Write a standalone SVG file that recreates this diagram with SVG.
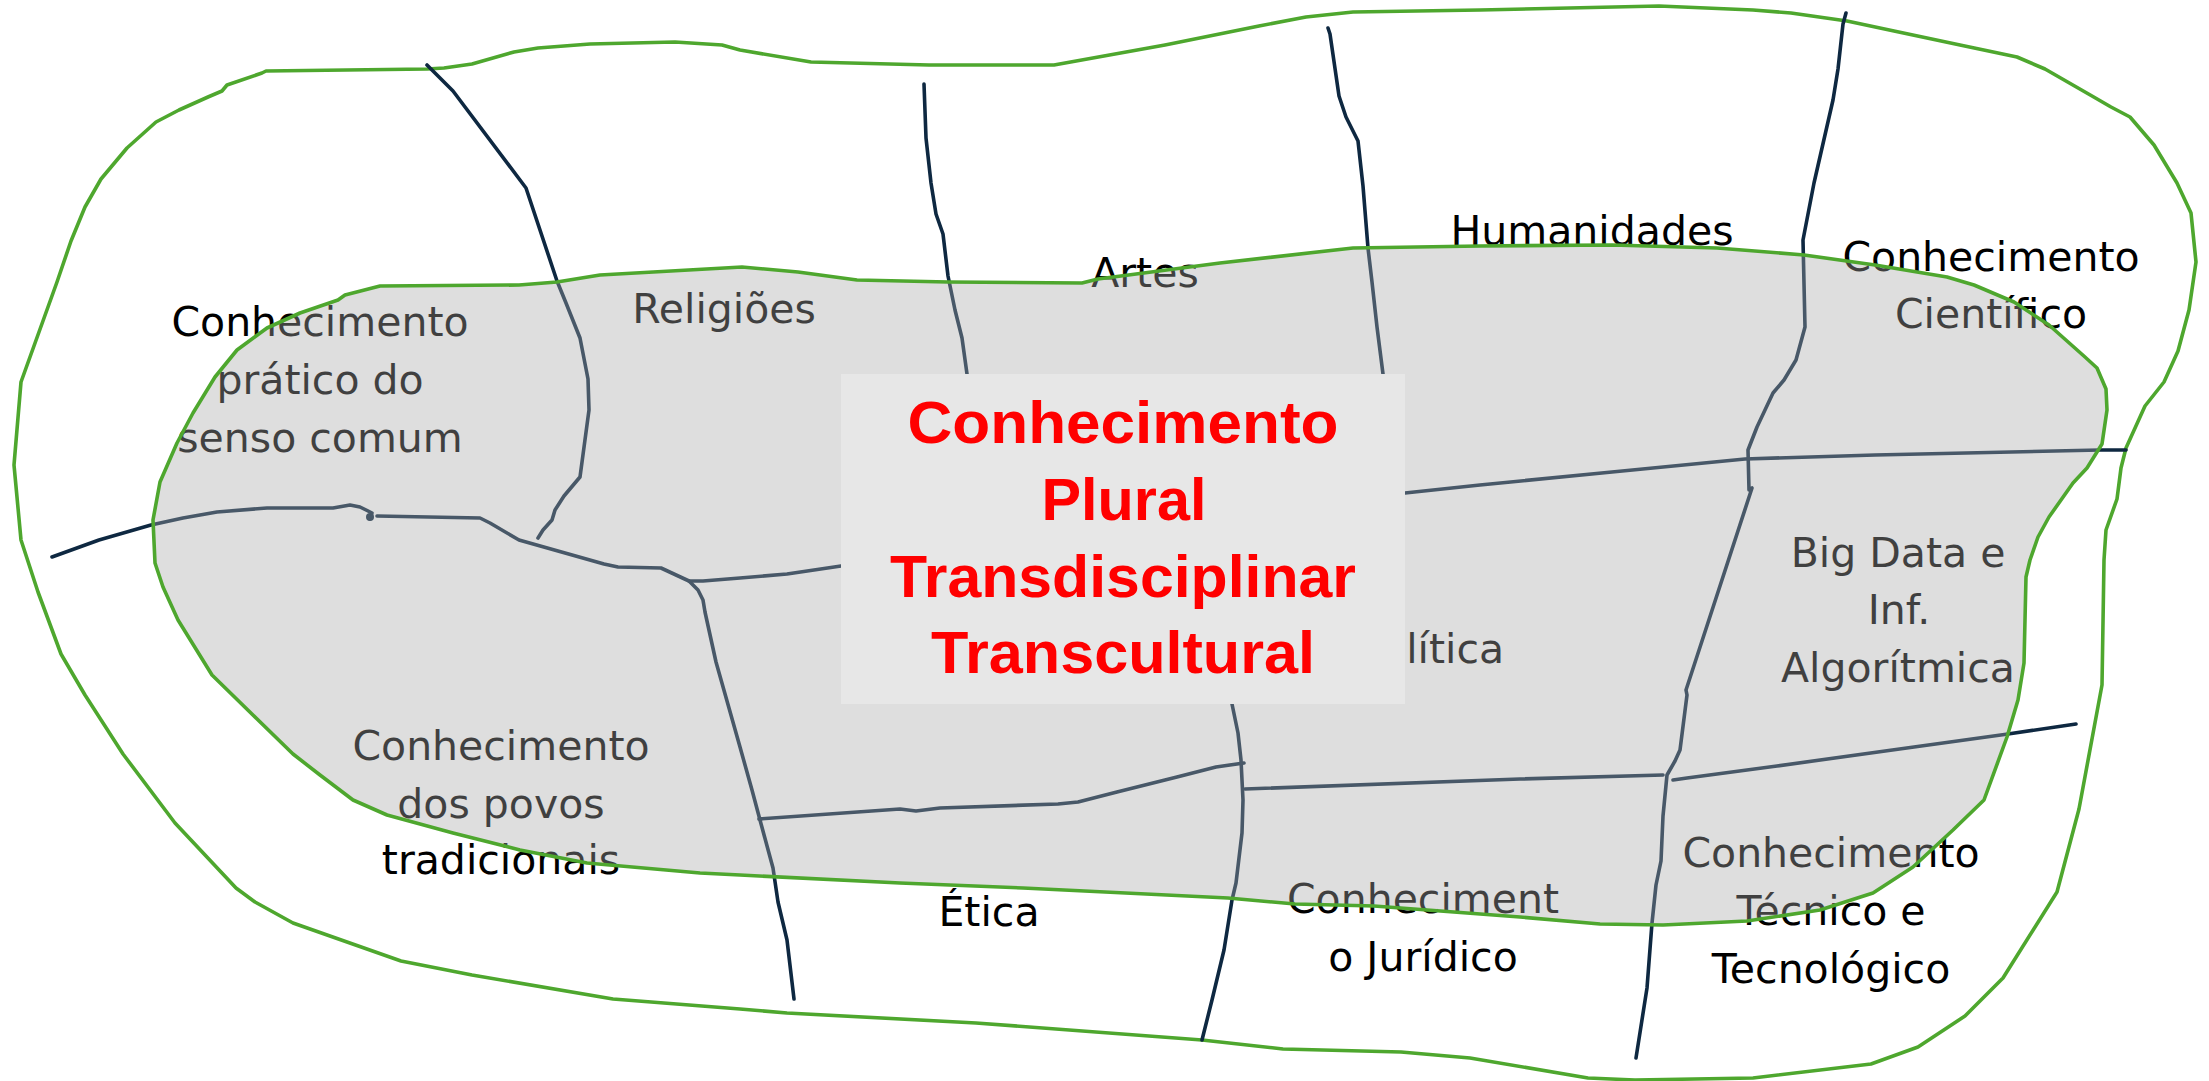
<svg xmlns="http://www.w3.org/2000/svg" width="2209" height="1081" viewBox="0 0 2209 1081">
<defs>
<style>
.green{fill:none;stroke:#4EA72E;stroke-width:3.6;stroke-linejoin:round;stroke-linecap:round}
.line{fill:none;stroke:#0E2841;stroke-width:3.6;stroke-linejoin:round;stroke-linecap:round}
.lbl{font-family:"DejaVu Sans","Liberation Sans",sans-serif;font-size:41px;fill:#000;text-anchor:middle}
.title{font-family:"Liberation Sans",Arial,sans-serif;font-weight:bold;font-size:60px;fill:#FF0000;text-anchor:middle}
</style>
</defs>
<rect width="2209" height="1081" fill="#FFFFFF"/>
<g id="outer-region">
<path class="green" d="M266,71 L427,69 L444,68 L472,64 L514,52 L538,48 L590,44 L675,42 L722,45 L740,50 L811,62 L929,65 L1054,65 L1165,45 L1259,26 L1306,17 L1353,12 L1480,10 L1659,6 L1753,10 L1791,13 L1847,21 L1894,31 L1960,45 L2017,57 L2045,69 L2092,96 L2111,107 L2130,117 L2154,145 L2177,183 L2191,213 L2196,262 L2189,310 L2178,351 L2164,382 L2145,406 L2126,448 L2121,468 L2117,499 L2106,530 L2104,560 L2102,685 L2079,809 L2057,892 L2003,978 L1965,1016 L1918,1047 L1871,1064 L1753,1078 L1635,1080 L1588,1078 L1470,1058 L1401,1052 L1283,1049 L1202,1040 L976,1023 L787,1013 L740,1009 L613,999 L472,975 L401,961 L293,923 L255,902 L236,888 L175,823 L123,754 L85,695 L61,654 L38,592 L21,540 L14,465 L21,382 L57,282 L71,241 L85,207 L101,179 L127,148 L156,122 L179,110 L208,97 L222,91 L227,85 L262,73 Z"/>
</g>
<g id="labels">
<g id="n-senso-comum"><text class="lbl" x="320" y="336">Conhecimento</text><text class="lbl" x="320" y="394">prático do</text><text class="lbl" x="320" y="452">senso comum</text></g>
<g id="n-religioes"><text class="lbl" x="724" y="323">Religiões</text></g>
<g id="n-artes"><text class="lbl" x="1145" y="287">Artes</text></g>
<g id="n-humanidades"><text class="lbl" x="1592" y="245">Humanidades</text></g>
<g id="n-cientifico"><text class="lbl" x="1991" y="271">Conhecimento</text><text class="lbl" x="1991" y="328">Científico</text></g>
<g id="n-bigdata"><text class="lbl" x="1898" y="567">Big Data e</text><text class="lbl" x="1899" y="624">Inf.</text><text class="lbl" x="1898" y="682">Algorítmica</text></g>
<g id="n-politica"><text class="lbl" x="1431" y="663">Política</text></g>
<g id="n-povos"><text class="lbl" x="501" y="760">Conhecimento</text><text class="lbl" x="501" y="818">dos povos</text><text class="lbl" x="501" y="874">tradicionais</text></g>
<g id="n-etica"><text class="lbl" x="989" y="926">Ética</text></g>
<g id="n-juridico"><text class="lbl" x="1423" y="913">Conheciment</text><text class="lbl" x="1423" y="971">o Jurídico</text></g>
<g id="n-tecnico"><text class="lbl" x="1831" y="867">Conhecimento</text><text class="lbl" x="1831" y="925">Técnico e</text><text class="lbl" x="1831" y="983">Tecnológico</text></g>
</g>
<g id="connectors">
<path class="line" d="M427,65 L453,91 L526,188 L557,281 L566,303 L580,338 L588,379 L589,410 L580,477 L564,496 L555,510 L552,520 L543,530 L538,538"/>
<path class="line" d="M52,557 L99,540 L151,525 L183,518 L217,512 L267,508 L333,508 L350,505 L360,507 L372,513 L370,519"/>
<circle cx="370" cy="517" r="4" fill="#0E2841"/>
<path class="line" d="M377,516 L480,518 L490,523 L519,540 L604,564 L618,567 L661,568 L689,581 L703,581 L740,578 L787,574 L841,566"/>
<path class="line" d="M689,581 L698,590 L703,600 L705,612 L716,662 L740,747 L752,790 L760,820 L773,868 L778,902 L787,940 L794,999"/>
<path class="line" d="M759,819 L900,809 L916,811 L940,808 L1058,804 L1078,802 L1117,792 L1177,777 L1216,767 L1244,763"/>
<path class="line" d="M1232,704 L1238,733 L1241,760 L1243,800 L1242,833 L1236,883 L1232,900 L1224,950 L1212,1000 L1202,1040"/>
<path class="line" d="M1245,789 L1520,779 L1663,775"/>
<path class="line" d="M1673,780 L1687,778 L1777,766 L1914,747 L2008,734 L2076,724"/>
<path class="line" d="M1846,13 L1843,24 L1838,69 L1833,100 L1814,183 L1803,240 L1805,327 L1796,360 L1784,380 L1773,393 L1757,427 L1748,450 L1749,490 L1752,488 L1686,690 L1687,695 L1680,750 L1675,761 L1667,775 L1663,816 L1661,861 L1656,885 L1652,923 L1647,988 L1636,1058"/>
<path class="line" d="M1405,493 L1480,485 L1612,472 L1745,459 L1875,455 L2100,450 L2126,450"/>
<path class="line" d="M924,84 L926,138 L931,183 L936,214 L943,234 L948,276 L955,310 L962,338 L967,374"/>
<path class="line" d="M1328,28 L1330,34 L1339,96 L1346,117 L1358,141 L1363,186 L1368,248 L1372,282 L1377,327 L1383,374"/>
</g>
<g id="inner-region">
<path id="inner-fill" fill="#A8A8A8" fill-opacity="0.38" d="M380,286 L519,285 L557,282 L600,275 L742,267 L798,272 L857,280 L948,282 L1082,283 L1098,279 L1220,263 L1353,248 L1480,246 L1612,245 L1717,248 L1804,255 L1875,265 L1947,277 L1974,285 L2014,302 L2049,325 L2085,357 L2097,368 L2106,389 L2107,410 L2102,444 L2087,468 L2073,483 L2049,517 L2038,537 L2030,560 L2026,577 L2024,663 L2018,700 L2007,737 L1984,800 L1953,830 L1913,867 L1873,893 L1820,910 L1747,921 L1663,925 L1600,924 L1520,917 L1374,906 L1295,904 L1228,898 L1023,888 L900,883 L740,875 L700,873 L587,863 L520,850 L453,833 L387,815 L353,800 L320,775 L293,754 L212,675 L178,620 L163,587 L155,563 L153,520 L160,482 L177,443 L193,413 L215,377 L237,350 L267,328 L300,313 L338,300 L345,295 Z"/>
<path class="green" d="M380,286 L519,285 L557,282 L600,275 L742,267 L798,272 L857,280 L948,282 L1082,283 L1098,279 L1220,263 L1353,248 L1480,246 L1612,245 L1717,248 L1804,255 L1875,265 L1947,277 L1974,285 L2014,302 L2049,325 L2085,357 L2097,368 L2106,389 L2107,410 L2102,444 L2087,468 L2073,483 L2049,517 L2038,537 L2030,560 L2026,577 L2024,663 L2018,700 L2007,737 L1984,800 L1953,830 L1913,867 L1873,893 L1820,910 L1747,921 L1663,925 L1600,924 L1520,917 L1374,906 L1295,904 L1228,898 L1023,888 L900,883 L740,875 L700,873 L587,863 L520,850 L453,833 L387,815 L353,800 L320,775 L293,754 L212,675 L178,620 L163,587 L155,563 L153,520 L160,482 L177,443 L193,413 L215,377 L237,350 L267,328 L300,313 L338,300 L345,295 Z"/>
</g>
<g id="n-center">
<rect x="841" y="374" width="564" height="330" fill="#E7E7E7"/>
<text class="title" x="1123" y="443" textLength="431" lengthAdjust="spacingAndGlyphs">Conhecimento</text>
<text class="title" x="1124" y="520" textLength="165" lengthAdjust="spacingAndGlyphs">Plural</text>
<text class="title" x="1123" y="597" textLength="466" lengthAdjust="spacingAndGlyphs">Transdisciplinar</text>
<text class="title" x="1123" y="673" textLength="384" lengthAdjust="spacingAndGlyphs">Transcultural</text>
</g>
</svg>
